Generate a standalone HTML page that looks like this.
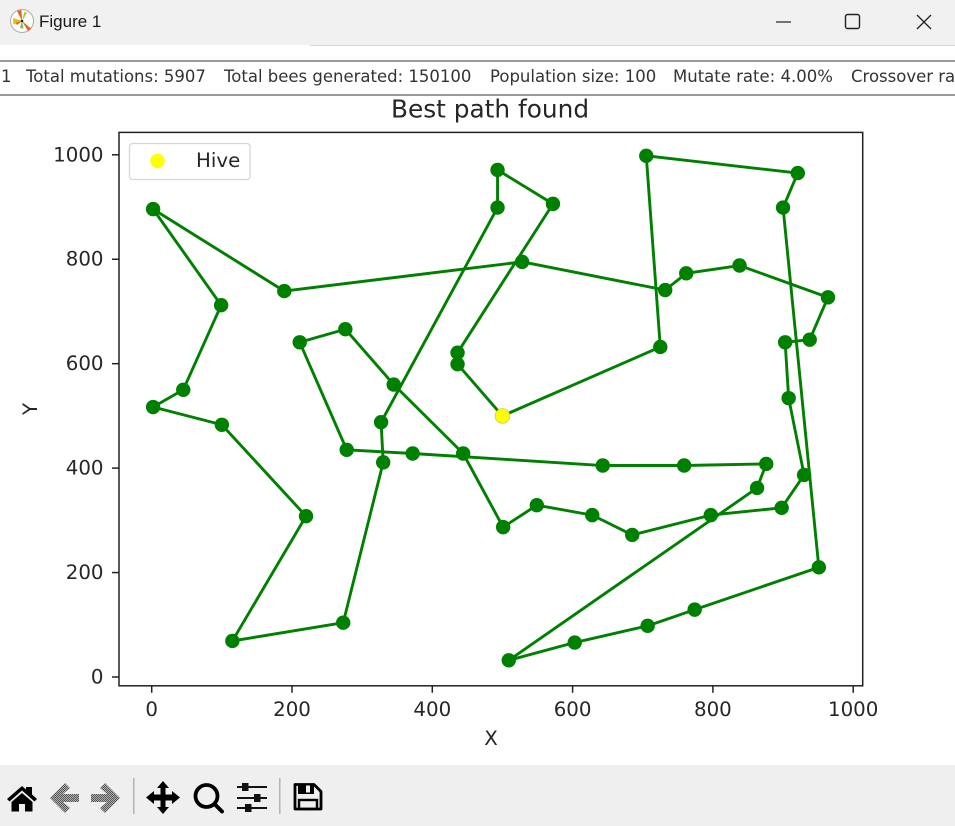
<!DOCTYPE html>
<html>
<head>
<meta charset="utf-8">
<title>Figure 1</title>
<style>
html,body{margin:0;padding:0;background:#fff;}
#win{position:relative;width:955px;height:826px;overflow:hidden;background:#fff;font-family:"DejaVu Sans","Liberation Sans",sans-serif;}
#titlebar{position:absolute;left:0;top:0;width:955px;height:45px;background:#f1f1f1;}
#titleline{position:absolute;left:310px;top:45px;width:645px;height:1px;background:#d9d9d9;}
#title-text{position:absolute;left:39px;top:11px;font:17px/22px "Liberation Sans",sans-serif;color:#1a1a1a;}
#status{position:absolute;left:0;top:60px;width:955px;height:32px;border-top:2px solid #9a9a9a;border-bottom:2px solid #9a9a9a;background:#fff;overflow:hidden;white-space:pre;font-size:16.5px;line-height:29px;color:#333;filter:blur(.3px);}
#status span{position:absolute;top:0;}
#toolbar{position:absolute;left:0;top:765px;width:955px;height:61px;background:#efefef;}
svg{position:absolute;left:0;top:0;}
#chart,#tools{filter:blur(.35px);}
</style>
</head>
<body>
<div id="win">
  <div id="titlebar"></div>
  <div id="titleline"></div>
  <svg width="40" height="45">
    <circle cx="22" cy="21" r="11.500" fill="#fff" stroke="#aaa" stroke-width="1"/>
    <path d="M22 21L13 18L13.500 24.500Z" fill="#f5b400"/>
    <path d="M22 21L17 11L21.500 10Z" fill="#e8641a"/>
    <path d="M22 21L31 28.500L28 31Z" fill="#e8641a"/>
    <path d="M22 21L27 13L24.500 11.500Z" fill="#b5c83a"/>
    <path d="M22 21L20 28L23.500 28.500Z" fill="#6fbf4a"/>
    <path d="M22 21L17 25L15.500 23Z" fill="#e8641a"/>
    <circle cx="22" cy="21" r="1.300" fill="#222"/>
  </svg>
  <div id="title-text">Figure 1</div>
  <svg width="955" height="45">
    <line x1="776" y1="22" x2="791" y2="22" stroke="#222" stroke-width="1.200"/>
    <rect x="845.500" y="14.500" width="14" height="14" rx="2" fill="none" stroke="#222" stroke-width="1.400"/>
    <path d="M917 15L931 29M931 15L917 29" stroke="#222" stroke-width="1.300" fill="none"/>
  </svg>
  <div id="status">
    <span style="left:1px">1</span>
    <span style="left:26px">Total mutations: 5907</span>
    <span style="left:224px">Total bees generated: 150100</span>
    <span style="left:490px">Population size: 100</span>
    <span style="left:673px">Mutate rate: 4.00%</span>
    <span style="left:851px">Crossover rate</span>
  </div>

  <svg id="chart" width="955" height="826"></svg>

  <div id="toolbar"></div>
  <svg id="tools" width="955" height="826" style="pointer-events:none">
    <defs>
      <pattern id="dither" width="2" height="2" patternUnits="userSpaceOnUse">
        <rect width="2" height="2" fill="#b0b0b0"/>
        <rect width="1" height="1" fill="#555"/>
        <rect x="1" y="1" width="1" height="1" fill="#555"/>
      </pattern>
    </defs>
    <path d="M7 799L22 786L26 789.500L26 787L32 787L32 794.500L37 799L34.500 801.500L22 790.500L9.500 801.500ZM11.500 802L22 793L32.500 802L32.500 811.500L25 811.500L25 804L19 804L19 811.500L11.500 811.500Z" fill="#000"/>
    <path d="M50 798L65 783L70 788L63 794L79 794L79 802L63 802L70 808L65 813Z" fill="url(#dither)"/>
    <path d="M120 798L105 783L100 788L107 794L91 794L91 802L107 802L100 808L105 813Z" fill="url(#dither)"/>
    <rect x="133" y="778" width="1.500" height="36" fill="#b5b5b5"/>
    <path d="M163 781L169 788L165.500 788L165.500 794.500L172 794.500L172 791L180 797.500L172 804L172 800.500L165.500 800.500L165.500 807L169 807L163 814L157 807L160.500 807L160.500 800.500L154 800.500L154 804L146 797.500L154 791L154 794.500L160.500 794.500L160.500 788L157 788Z" fill="#000"/>
    <g>
      <circle cx="206.500" cy="796" r="11" fill="none" stroke="#000" stroke-width="3.800"/>
      <line x1="214.500" y1="804" x2="222" y2="811.500" stroke="#000" stroke-width="4" stroke-linecap="round"/>
    </g>
    <g fill="#111">
      <rect x="237" y="786" width="30" height="2"/><rect x="237" y="797" width="30" height="2"/><rect x="237" y="807" width="30" height="2"/>
      <rect x="242" y="783" width="6.500" height="8"/><rect x="254" y="794" width="6.500" height="8"/><rect x="245" y="804" width="6.500" height="8"/>
    </g>
    <rect x="279" y="778" width="1.500" height="36" fill="#b5b5b5"/>
    <g>
      <path d="M295 784.500L314 784.500L321 791.500L321 809L295 809Z" fill="none" stroke="#000" stroke-width="2.800" stroke-linejoin="round"/>
      <path d="M298 784.500L314 784.500L314 794L298 794Z" fill="#000"/>
      <rect x="306" y="785.500" width="4" height="7" fill="#efefef"/>
      <rect x="299" y="800" width="18" height="9" fill="none" stroke="#000" stroke-width="2.400"/>
    </g>
  </svg>
</div>
<script>
var pathX = [500,436,436,572,493,493,327,330,273,115,220,100,2,45,99,2,189,528,732,762,838,964,938,903,908,930,898,797,685,628,549,501,444,345,276,211,278,372,643,759,876,863,509,603,707,774,951,900,921,705,725,500];
var pathY = [500,599,621,906,971,899,488,411,104,69,308,483,517,550,712,896,739,795,741,773,788,727,646,641,534,387,324,310,272,310,329,287,428,560,666,641,435,428,405,405,408,362,32,66,98,129,210,899,965,998,632,500];
var hiveX = [500];
var hiveY = [500];
var xTickValues = [0,200,400,600,800,1000];
var yTickValues = [0,200,400,600,800,1000];
var chartTitle = "Best path found";
var xAxisLabel = "X";
var yAxisLabel = "Y";
var legendLabel = "Hive";

var NS = "http://www.w3.org/2000/svg";
var chart = document.getElementById("chart");
var plotLeft = 119, plotRight = 862.7, plotTop = 132.4, plotBottom = 685.8;
function sx(v){ return 151.7 + v * 0.7015; }
function sy(v){ return 677 - v * 0.5222; }
function make(tag, props, parent){
  var el = document.createElementNS(NS, tag);
  for (var k in props) el.setAttribute(k, props[k]);
  (parent || chart).appendChild(el);
  return el;
}

var bg = make("rect", {x:plotLeft, y:plotTop, width:plotRight-plotLeft, height:plotBottom-plotTop, fill:"#fff"});



var pts = [];
for (var i = 0; i < pathX.length; i++) pts.push(sx(pathX[i]).toFixed(2) + "," + sy(pathY[i]).toFixed(2));
var line = make("polyline", {points:pts.join(" "), fill:"none", stroke:"#008000", "stroke-width":2.9, "stroke-linejoin":"round"});



for (var j = 0; j < pathX.length; j++) {
  var dot = make("circle", {cx:sx(pathX[j]), cy:sy(pathY[j]), r:7.2, fill:"#008000"});
  
  
}

for (var h = 0; h < hiveX.length; h++) {
  var hive = make("circle", {cx:sx(hiveX[h]), cy:sy(hiveY[h]), r:7.4, fill:"#ffff00", stroke:"#b8c040", "stroke-width":0.6});
  
  
}

var frame = make("rect", {x:plotLeft, y:plotTop, width:plotRight-plotLeft, height:plotBottom-plotTop, fill:"none", stroke:"#222", "stroke-width":1.5});



var textStyle = {"font-family":"'DejaVu Sans', sans-serif", "font-size":"19.8px", fill:"#262626"};
function label(x, y, str, anchor, size){
  var t = make("text", {x:x, y:y, "text-anchor":anchor, "font-family":textStyle["font-family"], "font-size":size || textStyle["font-size"], fill:textStyle.fill});
  t.textContent = str;
  return t;
}

for (var a = 0; a < xTickValues.length; a++) {
  var xp = sx(xTickValues[a]);
  var xt = make("line", {x1:xp, x2:xp, y1:plotBottom, y2:plotBottom+7, stroke:"#222", "stroke-width":1.5});
  
  
  var xl = label(xp, 716, String(xTickValues[a]), "middle");
  
  
}
for (var b = 0; b < yTickValues.length; b++) {
  var yp = sy(yTickValues[b]);
  var yt = make("line", {x1:plotLeft-7, x2:plotLeft, y1:yp, y2:yp, stroke:"#222", "stroke-width":1.5});
  
  
  var yl = label(103.5, yp + 6.5, String(yTickValues[b]), "end");
  
  
}

var titleEl = label(490, 117.5, chartTitle, "middle", "24.8px");



var xTitle = label(491, 745, xAxisLabel, "middle");



var yTitle = label(0, 0, yAxisLabel, "middle");
yTitle.setAttribute("transform", "translate(37,409) rotate(-90)");



var legendBox = make("rect", {x:129.5, y:143.5, width:120.5, height:36, rx:3, fill:"#fff", stroke:"#d6d6d6", "stroke-width":1.3});



var legendDot = make("circle", {cx:157.5, cy:161, r:7.2, fill:"#ffff00"});



var legendText = label(196, 167, legendLabel, "start");


</script>
</body>
</html>
